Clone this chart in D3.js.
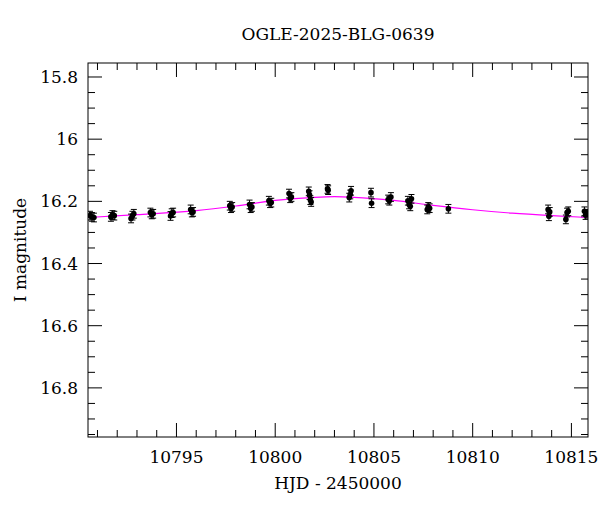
<!DOCTYPE html>
<html><head><meta charset="utf-8">
<script src="https://cdn.jsdelivr.net/npm/d3@7"></script>
<style>body{margin:0;background:#fff}text{font-family:"DejaVu Serif","Liberation Serif",serif}</style>
</head><body><svg id="c" width="600" height="512"></svg>
<script>
const hjd = [10790.62,10790.72,10790.82,10791.68,10791.76,10791.85,10792.70,10792.77,10792.84,10793.68,10793.75,10793.82,10794.70,10794.76,10794.83,10795.72,10795.78,10795.84,
 10797.70,10797.76,10797.82,10798.70,10798.76,10798.82,10799.68,10799.74,10799.80,10800.70,10800.76,10800.82,10801.70,10801.74,10801.78,10801.82,10802.65,10802.68,
 10803.75,10803.80,10803.84,10804.85,10804.88,10805.72,10805.78,10805.86,10806.72,10806.78,10806.84,10806.90,10807.70,10807.75,10807.82,10808.77,
 10813.82,10813.86,10813.90,10814.72,10814.78,10814.84,10815.66,10815.72,10815.80];
const mag = [16.246,16.250,16.252,16.250,16.244,16.246,16.255,16.246,16.240,16.236,16.242,16.240,16.247,16.238,16.236,16.226,16.236,16.234,
 16.214,16.222,16.218,16.210,16.222,16.218,16.198,16.206,16.204,16.175,16.190,16.186,16.168,16.180,16.196,16.202,16.160,16.164,
 16.188,16.178,16.166,16.172,16.206,16.194,16.198,16.186,16.198,16.210,16.216,16.192,16.226,16.218,16.222,16.224,
 16.226,16.248,16.234,16.258,16.236,16.232,16.232,16.244,16.240];
const err = 0.014;
const modelX = [10790.5,10793,10796,10798,10800,10802,10803,10804,10806,10808,10810,10812,10814,10815.84];
const modelY = [16.252,16.243,16.230,16.215,16.197,16.187,16.185,16.187,16.197,16.213,16.227,16.238,16.246,16.252];
const yTicks = [15.8,16,16.2,16.4,16.6,16.8];
const xTicks = [10795,10800,10805,10810,10815];

const svg = d3.select("#c");
const L=88,R=588,T=63,B=437;
const x = d3.scaleLinear().domain([10790.52,10815.84]).range([L,R]);
const y = d3.scaleLinear().domain([15.755,16.958]).range([T,B]);
const g = svg.append("g");
g.append("rect").attr("x",L).attr("y",T).attr("width",R-L).attr("height",B-T).attr("fill","none").attr("stroke","#000");
const xm = d3.range(10791,10816,1);
xm.forEach(v=>{const len = v%5===0?14:7;
  [[B,B-len],[T,T+len]].forEach(([a,b])=>g.append("line").attr("x1",x(v)).attr("x2",x(v)).attr("y1",a).attr("y2",b).attr("stroke","#000"));});
const ym = d3.range(15.8,16.96,0.05);
ym.forEach(v=>{const maj = Math.abs(v*5-Math.round(v*5))<1e-6; const len=maj?14:7;
  [[L,L+len],[R,R-len]].forEach(([a,b])=>g.append("line").attr("x1",a).attr("x2",b).attr("y1",y(v)).attr("y2",y(v)).attr("stroke","#000"));});
xTicks.forEach(v=>g.append("text").attr("x",x(v)).attr("y",463).attr("text-anchor","middle").attr("font-size",17).text(v));
yTicks.forEach(v=>g.append("text").attr("x",78).attr("y",y(v)+6).attr("text-anchor","end").attr("font-size",17).text(v));
svg.append("text").attr("x",338).attr("y",40).attr("text-anchor","middle").attr("font-size",17).text("OGLE-2025-BLG-0639");
svg.append("text").attr("x",338).attr("y",489).attr("text-anchor","middle").attr("font-size",17).text("HJD - 2450000");
svg.append("text").attr("transform","translate(26,250) rotate(-90)").attr("text-anchor","middle").attr("font-size",17).text("I magnitude");
svg.append("clipPath").attr("id","cp").append("rect").attr("x",L).attr("y",T).attr("width",R-L).attr("height",B-T);
const pg = svg.append("g").attr("clip-path","url(#cp)");
pg.append("path").datum(modelX.map((v,i)=>[v,modelY[i]]))
  .attr("d",d3.line().x(d=>x(d[0])).y(d=>y(d[1])).curve(d3.curveMonotoneX))
  .attr("fill","none").attr("stroke","#ff00ff").attr("stroke-width",1.2);
hjd.forEach((v,i)=>{
  const cx=x(v), cy=y(mag[i]), y1=y(mag[i]-err), y2=y(mag[i]+err);
  pg.append("line").attr("x1",cx).attr("x2",cx).attr("y1",y1).attr("y2",y2).attr("stroke","#000");
  [y1,y2].forEach(yy=>pg.append("line").attr("x1",cx-3).attr("x2",cx+3).attr("y1",yy).attr("y2",yy).attr("stroke","#000"));
  pg.append("circle").attr("cx",cx).attr("cy",cy).attr("r",2.8).attr("fill","#000");
});
</script></body></html>
